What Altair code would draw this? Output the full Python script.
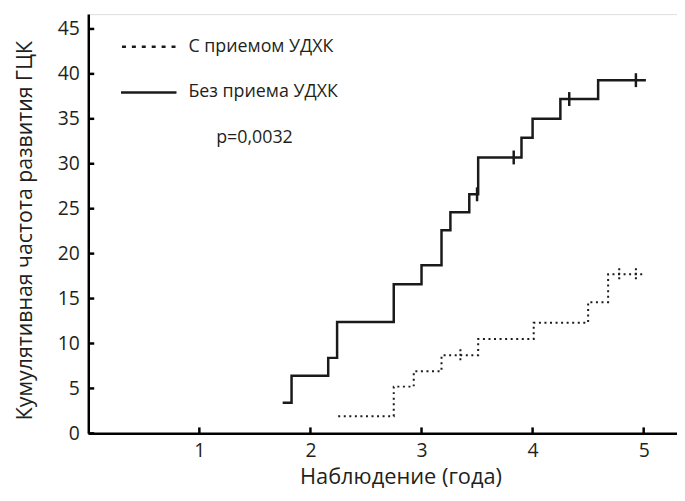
import altair as alt
import pandas as pd

# ---- data ----
solid_x = [1.75, 1.83, 2.16, 2.24, 2.75, 3.00, 3.18, 3.26, 3.43, 3.51, 3.90, 4.00, 4.25, 4.59, 5.02]
solid_y = [3.4, 6.4, 8.4, 12.4, 16.6, 18.7, 22.6, 24.6, 26.6, 30.7, 32.9, 35.0, 37.2, 39.3, 39.3]
solid_cens_x = [3.50, 3.83, 4.33, 4.93]
solid_cens_y = [26.6, 30.7, 37.2, 39.3]

dotted_x = [2.25, 2.75, 2.93, 3.18, 3.51, 4.01, 4.50, 4.68, 5.00]
dotted_y = [1.9, 5.2, 6.9, 8.7, 10.5, 12.3, 14.6, 17.7, 17.7]
dotted_cens_x = [3.35, 4.78, 4.93]
dotted_cens_y = [8.7, 17.7, 17.7]

x_ticks = [1, 2, 3, 4, 5]
y_ticks = [0, 5, 10, 15, 20, 25, 30, 35, 40, 45]

series_labels = ["С приемом УДХК", "Без приема УДХК"]
p_text = "p=0,0032"
x_title = "Наблюдение (года)"
y_title = "Кумулятивная частота развития ГЦК"

FONT = "Open Sans"
TXT = "#231f20"
W, H = 594, 423

solid_df = pd.DataFrame({"x": solid_x, "y": solid_y})
dotted_df = pd.DataFrame({"x": dotted_x, "y": dotted_y})
solid_c = pd.DataFrame({"x": solid_cens_x, "y": solid_cens_y})
dotted_c = pd.DataFrame({"x": dotted_cens_x, "y": dotted_cens_y})
xt = pd.DataFrame({"x": x_ticks})
yt = pd.DataFrame({"y": y_ticks})
one = pd.DataFrame({"a": [0]})

xs = alt.Scale(domain=[0, 5.3], nice=False, zero=False)
ys = alt.Scale(domain=[0, 46.65], nice=False, zero=False)

x_axis = alt.Axis(values=x_ticks, format="d", ticks=False, grid=False, domainColor="black",
                  domainWidth=2.5, labelFontSize=19.5, labelFont=FONT, labelColor=TXT,
                  labelPadding=8, title=x_title, titleFont=FONT, titleFontSize=22,
                  titleFontWeight="normal", titleColor=TXT, titlePadding=7,
                  titleX=315)
y_axis = alt.Axis(values=y_ticks, format="d", ticks=False, grid=False, domainColor="black",
                  domainWidth=2.5, labelFontSize=19.5, labelFont=FONT, labelColor=TXT,
                  labelPadding=9, title=y_title, titleFont=FONT, titleFontSize=21.5,
                  titleFontWeight="normal", titleColor=TXT, titlePadding=21,
                  titleY=218)

base_axes = alt.Chart(one).mark_point(opacity=0).encode(
    x=alt.X("a:Q", scale=xs, axis=x_axis),
    y=alt.Y("a:Q", scale=ys, axis=y_axis),
)

solid_line = alt.Chart(solid_df).mark_line(
    interpolate="step-after", color="#1a1a1a", strokeWidth=2.5
).encode(x="x:Q", y="y:Q")

dotted_line = alt.Chart(dotted_df).mark_line(
    interpolate="step-after", color="#1a1a1a", strokeWidth=2, strokeDash=[2, 3.6]
).encode(x="x:Q", y="y:Q")

solid_cens = alt.Chart(solid_c).mark_point(
    shape="M0,-1V1", size=196, filled=False, stroke="#1a1a1a", strokeWidth=2.5, opacity=1
).encode(x="x:Q", y="y:Q")

dotted_cens = alt.Chart(dotted_c).mark_point(
    shape="M0,-1V1", size=144, filled=False, stroke="#1a1a1a", strokeWidth=2,
    strokeDash=[2, 2.5], opacity=1
).encode(x="x:Q", y="y:Q")

y_tick_marks = alt.Chart(yt).mark_rule(color="black", strokeWidth=2.5).encode(
    y="y:Q", x=alt.value(0), x2=alt.value(6)
)
x_tick_marks = alt.Chart(xt).mark_rule(color="black", strokeWidth=2.5).encode(
    x="x:Q", y=alt.value(H), y2=alt.value(H - 6)
)

leg1_line = alt.Chart(one).mark_rule(color="#1a1a1a", strokeWidth=2.5, strokeDash=[4, 6]).encode(
    x=alt.value(34), x2=alt.value(89), y=alt.value(33)
)
leg2_line = alt.Chart(one).mark_rule(color="#1a1a1a", strokeWidth=2.5).encode(
    x=alt.value(33), x2=alt.value(89), y=alt.value(79)
)
leg1_text = alt.Chart(one).mark_text(align="left", baseline="middle", font=FONT,
                                     fontSize=18, color=TXT).encode(
    x=alt.value(101), y=alt.value(33), text=alt.value(series_labels[0])
)
leg2_text = alt.Chart(one).mark_text(align="left", baseline="middle", font=FONT,
                                     fontSize=18, color=TXT).encode(
    x=alt.value(101), y=alt.value(79), text=alt.value(series_labels[1])
)
p_label = alt.Chart(one).mark_text(align="left", baseline="middle", font=FONT,
                                   fontSize=18, color=TXT).encode(
    x=alt.value(129), y=alt.value(125), text=alt.value(p_text)
)

chart = alt.layer(
    base_axes, y_tick_marks, x_tick_marks, dotted_line, solid_line, dotted_cens, solid_cens,
    leg1_line, leg2_line, leg1_text, leg2_text, p_label
).properties(
    width=W, height=H,
    autosize=alt.AutoSizeParams(type="none"),
    padding={"left": 81, "top": 4, "right": 0, "bottom": 58},
).configure_view(stroke=None).configure(background="white")

chart.save("out.html", embed_options={"renderer": "svg", "actions": False})
